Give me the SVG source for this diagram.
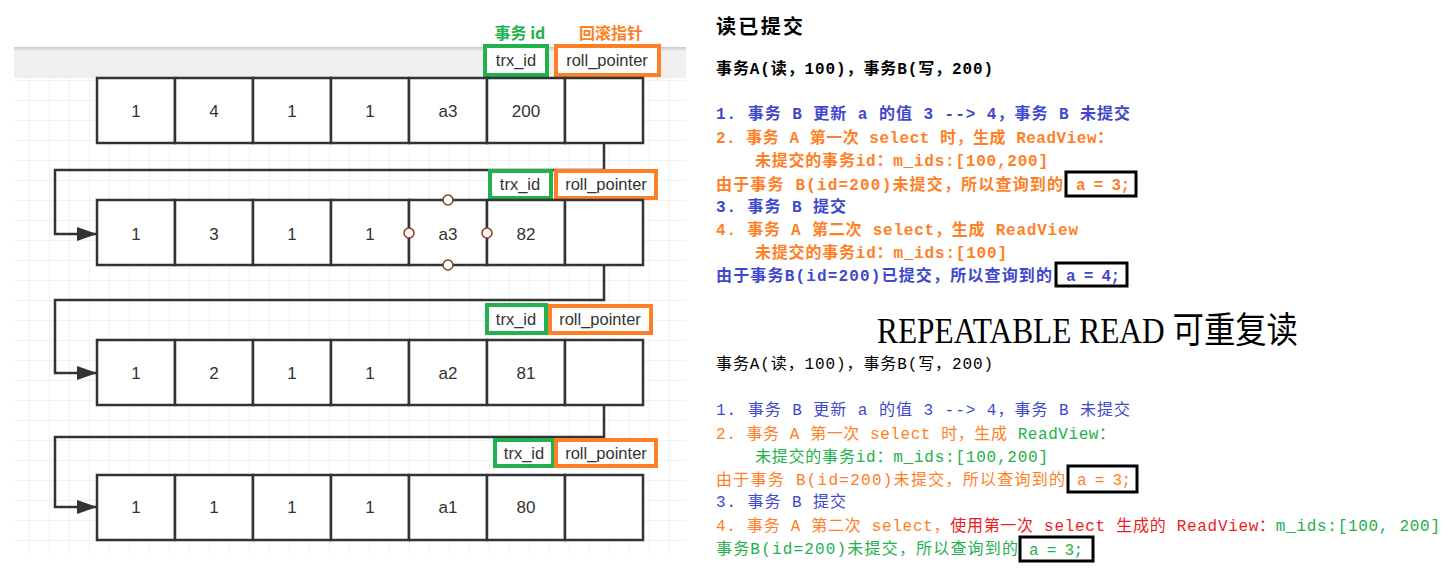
<svg xmlns="http://www.w3.org/2000/svg" width="1455" height="587" viewBox="0 0 1455 587">
<defs>
<pattern id="grid" x="9" y="0" width="20" height="20" patternUnits="userSpaceOnUse">
<path d="M0 0H20M0 0V20" fill="none" stroke="#e6e6e6" stroke-width="1"/>
</pattern>
<marker id="arr" viewBox="0 0 20 16" refX="20" refY="8" markerWidth="20" markerHeight="16" orient="auto" markerUnits="userSpaceOnUse">
<path d="M0 1L20 8L0 15z" fill="#333"/>
</marker>
<linearGradient id="bandtop" x1="0" y1="0" x2="0" y2="1">
<stop offset="0" stop-color="#c8c8c8"/><stop offset="1" stop-color="#efefef"/>
</linearGradient>
</defs>
<style>
.cell{fill:#fff;stroke:#333;stroke-width:2.5}
.cv{font-family:"Liberation Sans",Arial,sans-serif;font-size:17px;fill:#333;text-anchor:middle}
.lbl{font-family:"Liberation Sans",Arial,sans-serif;font-size:16.5px;fill:#333;text-anchor:middle}
.gb{fill:#fff;stroke:#22b14c;stroke-width:4}
.ob{fill:#fff;stroke:#ff7f27;stroke-width:4}
.conn{fill:none;stroke:#333;stroke-width:2.5}
.hd{font-family:"Noto Sans CJK SC",sans-serif;font-size:16px;font-weight:bold}
.t1{font-family:"Liberation Mono","Noto Sans CJK SC",monospace;font-size:16px;font-weight:bold}
.t2{font-family:"Liberation Mono","Noto Sans CJK SC",monospace;font-size:16px;font-weight:normal}
.bl{fill:#3f48cc}.or{fill:#ff7f27}.gr{fill:#22b14c}.rd{fill:#ed1c24}.bk{fill:#000}
.box{fill:#fff;stroke:#000;stroke-width:3}
.hnd{fill:#fff;stroke:#8b3a1a;stroke-width:1.5}
</style>
<rect width="1455" height="587" fill="#fff"/>
<!-- left canvas -->
<rect x="14" y="78" width="672" height="477" fill="url(#grid)"/>
<rect x="14" y="47" width="672" height="31" fill="#efefef"/>
<rect x="14" y="47" width="672" height="4" fill="url(#bandtop)"/>
<text class="hd gr" x="520" y="39" text-anchor="middle">事务 id</text>
<text class="hd or" x="611" y="39" text-anchor="middle">回滚指针</text>

<g id="connectors">
<path class="conn" d="M604 143V170H55V234H97" marker-end="url(#arr)"/>
<path class="conn" d="M604 265V300H55V373H97" marker-end="url(#arr)"/>
<path class="conn" d="M604 405V437H55V507H97" marker-end="url(#arr)"/>
</g>

<g id="row1">
<rect class="gb" x="485" y="46" width="62" height="29"/><text class="lbl" x="516" y="66">trx_id</text>
<rect class="ob" x="556" y="46" width="103" height="29"/><text class="lbl" x="607" y="66">roll_pointer</text>
<rect class="cell" x="97" y="78" width="78" height="65"/><rect class="cell" x="175" y="78" width="78" height="65"/><rect class="cell" x="253" y="78" width="78" height="65"/><rect class="cell" x="331" y="78" width="78" height="65"/><rect class="cell" x="409" y="78" width="78" height="65"/><rect class="cell" x="487" y="78" width="78" height="65"/><rect class="cell" x="565" y="78" width="78" height="65"/>
<text class="cv" x="136" y="117">1</text><text class="cv" x="214" y="117">4</text><text class="cv" x="292" y="117">1</text><text class="cv" x="370" y="117">1</text><text class="cv" x="448" y="117">a3</text><text class="cv" x="526" y="117">200</text>
</g>

<g id="row2">
<rect class="gb" x="490" y="171" width="61" height="27"/><text class="lbl" x="520" y="190">trx_id</text>
<rect class="ob" x="556" y="171" width="100" height="27"/><text class="lbl" x="606" y="190">roll_pointer</text>
<rect class="cell" x="97" y="200" width="78" height="65"/><rect class="cell" x="175" y="200" width="78" height="65"/><rect class="cell" x="253" y="200" width="78" height="65"/><rect class="cell" x="331" y="200" width="78" height="65"/><rect class="cell" x="409" y="200" width="78" height="65"/><rect class="cell" x="487" y="200" width="78" height="65"/><rect class="cell" x="565" y="200" width="78" height="65"/>
<text class="cv" x="136" y="240">1</text><text class="cv" x="214" y="240">3</text><text class="cv" x="292" y="240">1</text><text class="cv" x="370" y="240">1</text><text class="cv" x="448" y="240">a3</text><text class="cv" x="526" y="240">82</text>
<circle class="hnd" cx="448" cy="200" r="5"/><circle class="hnd" cx="409" cy="233" r="5"/><circle class="hnd" cx="487" cy="233" r="5"/><circle class="hnd" cx="448" cy="265" r="5"/>
</g>

<g id="row3">
<rect class="gb" x="487" y="305" width="59" height="28"/><text class="lbl" x="516" y="325">trx_id</text>
<rect class="ob" x="550" y="306" width="101" height="27"/><text class="lbl" x="600" y="325">roll_pointer</text>
<rect class="cell" x="97" y="340" width="78" height="65"/><rect class="cell" x="175" y="340" width="78" height="65"/><rect class="cell" x="253" y="340" width="78" height="65"/><rect class="cell" x="331" y="340" width="78" height="65"/><rect class="cell" x="409" y="340" width="78" height="65"/><rect class="cell" x="487" y="340" width="78" height="65"/><rect class="cell" x="565" y="340" width="78" height="65"/>
<text class="cv" x="136" y="379">1</text><text class="cv" x="214" y="379">2</text><text class="cv" x="292" y="379">1</text><text class="cv" x="370" y="379">1</text><text class="cv" x="448" y="379">a2</text><text class="cv" x="526" y="379">81</text>
</g>

<g id="row4">
<rect class="gb" x="495" y="440" width="58" height="26"/><text class="lbl" x="524" y="459">trx_id</text>
<rect class="ob" x="556" y="440" width="100" height="26"/><text class="lbl" x="606" y="459">roll_pointer</text>
<rect class="cell" x="97" y="475" width="78" height="65"/><rect class="cell" x="175" y="475" width="78" height="65"/><rect class="cell" x="253" y="475" width="78" height="65"/><rect class="cell" x="331" y="475" width="78" height="65"/><rect class="cell" x="409" y="475" width="78" height="65"/><rect class="cell" x="487" y="475" width="78" height="65"/><rect class="cell" x="565" y="475" width="78" height="65"/>
<text class="cv" x="136" y="513">1</text><text class="cv" x="214" y="513">1</text><text class="cv" x="292" y="513">1</text><text class="cv" x="370" y="513">1</text><text class="cv" x="448" y="513">a1</text><text class="cv" x="526" y="513">80</text>
</g>

<!-- right: read committed -->
<g id="read-committed">
<text x="716" y="34" font-family="Noto Sans CJK SC,sans-serif" font-size="20" font-weight="bold" fill="#000" textLength="87">读已提交</text>
<text class="t1 bk" x="716" y="74" textLength="277">事务A(读，100)，事务B(写，200)</text>
<text class="t1 bl" x="716" y="119" textLength="414">1. 事务 B 更新 a 的值 3 --&gt; 4，事务 B 未提交</text>
<text class="t1 or" x="716" y="143" textLength="397">2. 事务 A 第一次 select 时，生成 ReadView：</text>
<text class="t1 or" x="755" y="166" textLength="293">未提交的事务id：m_ids:[100,200]</text>
<text class="t1 or" x="716" y="190" textLength="347">由于事务 B(id=200)未提交，所以查询到的</text>
<rect class="box" x="1066" y="172" width="70" height="24"/>
<text class="t1 or" x="1076" y="190" textLength="54">a = 3;</text>
<text class="t1 bl" x="716" y="212" textLength="130">3. 事务 B 提交</text>
<text class="t1 or" x="716" y="235" textLength="362">4. 事务 A 第二次 select，生成 ReadView</text>
<text class="t1 or" x="755" y="258" textLength="252">未提交的事务id：m_ids:[100]</text>
<text class="t1 bl" x="716" y="281" textLength="336">由于事务B(id=200)已提交，所以查询到的</text>
<rect class="box" x="1056" y="263" width="71" height="23"/>
<text class="t1 bl" x="1066" y="281" textLength="54">a = 4;</text>
</g>

<!-- right: repeatable read -->
<g id="repeatable-read">
<text x="877" y="343" font-family="Liberation Serif,Noto Sans CJK SC,serif" font-size="36" fill="#000" textLength="421" lengthAdjust="spacingAndGlyphs">REPEATABLE READ 可重复读</text>
<text class="t2 bk" x="716" y="369" textLength="277">事务A(读，100)，事务B(写，200)</text>
<text class="t2 bl" x="716" y="415" textLength="414">1. 事务 B 更新 a 的值 3 --&gt; 4，事务 B 未提交</text>
<text class="t2" x="716" y="439" textLength="399"><tspan class="or">2. 事务 A 第一次 select 时，生成 </tspan><tspan class="gr">ReadView：</tspan></text>
<text class="t2 gr" x="755" y="462" textLength="293">未提交的事务id：m_ids:[100,200]</text>
<text class="t2 or" x="716" y="485" textLength="349">由于事务 B(id=200)未提交，所以查询到的</text>
<rect class="box" x="1068" y="466" width="69" height="26"/>
<text class="t2 or" x="1077" y="485" textLength="54">a = 3;</text>
<text class="t2 bl" x="716" y="507" textLength="130">3. 事务 B 提交</text>
<text class="t2" x="716" y="531" textLength="724"><tspan class="or">4. 事务 A 第二次 select，</tspan><tspan class="rd">使用第一次 select 生成的 ReadView：</tspan><tspan class="gr">m_ids:[100, 200]</tspan></text>
<text class="t2 gr" x="716" y="554" textLength="302">事务B(id=200)未提交，所以查询到的</text>
<rect class="box" x="1020" y="537" width="73" height="24"/>
<text class="t2 gr" x="1029" y="555" textLength="54">a = 3;</text>
</g>
</svg>
